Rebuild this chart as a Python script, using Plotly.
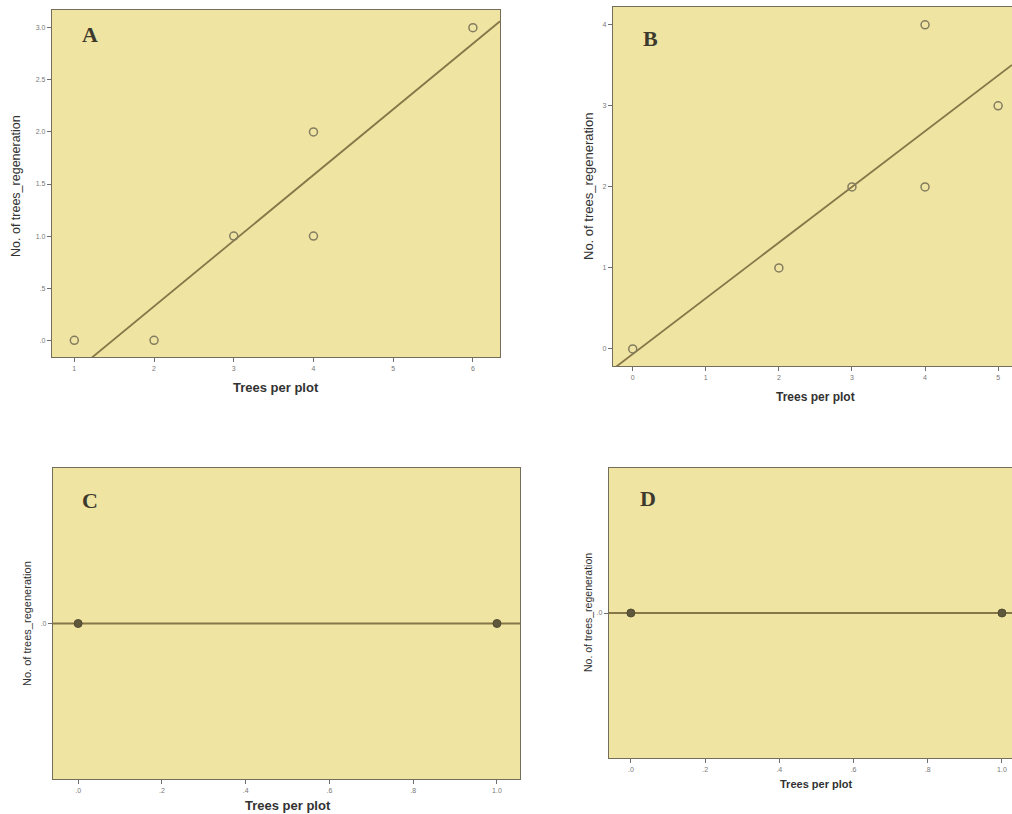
import numpy as np
import plotly.graph_objects as go

# ---- data ----
a_x = [1, 2, 3, 4, 4, 6]
a_y = [0, 0, 1, 1, 2, 3]
b_x = [0, 2, 3, 4, 4, 5]
b_y = [0, 1, 2, 2, 4, 3]
c_x = [0, 1]
c_y = [0, 0]
d_x = [0, 1]
d_y = [0, 0]

a_yticks = [0, 0.5, 1.0, 1.5, 2.0, 2.5, 3.0]
a_yticktext = [".0", ".5", "1.0", "1.5", "2.0", "2.5", "3.0"]
a_xticks = [1, 2, 3, 4, 5, 6]
b_yticks = [0, 1, 2, 3, 4]
b_xticks = [0, 1, 2, 3, 4, 5, 6]
cd_xticks = [0, 0.2, 0.4, 0.6, 0.8, 1.0]
cd_xticktext = [".0", ".2", ".4", ".6", ".8", "1.0"]
cd_yticks = [0]
cd_yticktext = [".0"]

panel_letters = ["A", "B", "C", "D"]
x_title = "Trees per plot"
y_title = "No. of trees_regeneration"

W, H = 1012, 814
BG = "rgb(240,228,162)"
LINE_C = "rgb(135,118,72)"
MARK_C = "rgb(130,125,95)"
FRAME_C = "rgb(115,110,90)"

def fx(px):
    return min(max(px / W, 0.0), 1.0)

def fy(py):
    return min(max(1 - py / H, 0.0), 1.0)

def px_dom_x(a, b):
    return [fx(a), fx(b)]

def px_dom_y(top, bot):
    return [fy(bot), fy(top)]

panels = [
    dict(x=a_x, y=a_y, xd=px_dom_x(52, 500), yd=px_dom_y(10, 357),
         xr=[0.72, 6.34], yr=[-0.16, 3.17], xt=a_xticks, xtt=[str(v) for v in a_xticks],
         yt=a_yticks, ytt=a_yticktext, filled=False),
    dict(x=b_x, y=b_y, xd=px_dom_x(613, 1012), yd=px_dom_y(7, 366),
         xr=[-0.27, 5.19], yr=[-0.21, 4.22], xt=b_xticks, xtt=[str(v) for v in b_xticks],
         yt=b_yticks, ytt=[str(v) for v in b_yticks], filled=False),
    dict(x=c_x, y=c_y, xd=px_dom_x(53, 520), yd=px_dom_y(468, 779),
         xr=[-0.06, 1.055], yr=[-1, 1], xt=cd_xticks, xtt=cd_xticktext,
         yt=cd_yticks, ytt=cd_yticktext, filled=True),
    dict(x=d_x, y=d_y, xd=px_dom_x(609, 1012), yd=px_dom_y(468, 758),
         xr=[-0.059, 1.027], yr=[-1, 1], xt=cd_xticks, xtt=cd_xticktext,
         yt=cd_yticks, ytt=cd_yticktext, filled=True),
]

fig = go.Figure()
layout = dict(width=W, height=H, margin=dict(l=0, r=0, t=0, b=0),
              paper_bgcolor="white", showlegend=False)

for i, p in enumerate(panels):
    n = "" if i == 0 else str(i + 1)
    xa, ya = "x" + n, "y" + n
    slope, icpt = np.polyfit(p["x"], p["y"], 1)
    lx = np.array(p["xr"])
    fig.add_trace(go.Scatter(x=lx, y=slope * lx + icpt, mode="lines",
                             line=dict(color=LINE_C, width=1.8),
                             xaxis=xa, yaxis=ya, hoverinfo="skip"))
    if p["filled"]:
        mk = dict(symbol="circle", size=8, color="rgb(95,88,60)",
                  line=dict(color="rgb(80,75,50)", width=1))
    else:
        mk = dict(symbol="circle-open", size=8, color=MARK_C,
                  line=dict(color=MARK_C, width=1.5))
    fig.add_trace(go.Scatter(x=p["x"], y=p["y"], mode="markers", marker=mk,
                             xaxis=xa, yaxis=ya, cliponaxis=False))
    axis_common = dict(showgrid=False, zeroline=False, showline=True, mirror=True,
                       linecolor=FRAME_C, linewidth=1.3, ticks="outside", ticklen=4,
                       tickcolor="rgb(110,110,110)",
                       tickfont=dict(size=7, color="rgb(120,120,120)", family="Liberation Sans"))
    layout["xaxis" + n] = dict(domain=p["xd"], range=p["xr"], anchor=ya,
                               tickmode="array", tickvals=p["xt"], ticktext=p["xtt"],
                               **axis_common)
    layout["yaxis" + n] = dict(domain=p["yd"], range=p["yr"], anchor=xa,
                               tickmode="array", tickvals=p["yt"], ticktext=p["ytt"],
                               **axis_common)
    layout.setdefault("shapes", []).append(dict(
        type="rect", xref="paper", yref="paper",
        x0=p["xd"][0], x1=p["xd"][1], y0=p["yd"][0], y1=p["yd"][1],
        fillcolor=BG, line=dict(width=0), layer="below"))

fig.update_layout(**layout)
fig.update_layout(plot_bgcolor="rgba(0,0,0,0)")

# panel letters
letter_pos = [(90, 35), (650, 38), (90, 500), (648, 498)]
for letter, (lx, ly) in zip(panel_letters, letter_pos):
    fig.add_annotation(x=fx(lx), y=fy(ly), xref="paper", yref="paper",
                       xanchor="center", yanchor="middle",
                       text="<b>" + letter + "</b>", showarrow=False,
                       font=dict(family="Liberation Serif", size=22, color="rgb(60,58,45)"))

# x-axis titles (x, y, font size)
xt_pos = [(276, 387, 13), (815, 397, 12), (288, 805, 13), (816, 784, 11)]
for (tx, ty, fs) in xt_pos:
    fig.add_annotation(x=fx(tx), y=fy(ty), xref="paper", yref="paper",
                       xanchor="center", yanchor="middle",
                       text="<b>" + x_title + "</b>", showarrow=False,
                       font=dict(family="Liberation Sans", size=fs, color="rgb(50,50,50)"))

# y-axis titles (x, y, font size)
yt_pos = [(16, 186, 12.5), (588, 187, 13), (27, 624, 11), (588, 613, 10.5)]
for (tx, ty, fs) in yt_pos:
    fig.add_annotation(x=fx(tx), y=fy(ty), xref="paper", yref="paper",
                       xanchor="center", yanchor="middle",
                       text=y_title, showarrow=False, textangle=-90,
                       font=dict(family="Liberation Sans", size=fs, color="rgb(50,50,50)"))

fig.write_html("out.html", config={"displayModeBar": False},
               post_script="document.body.style.margin='0';document.body.style.overflow='hidden';")
